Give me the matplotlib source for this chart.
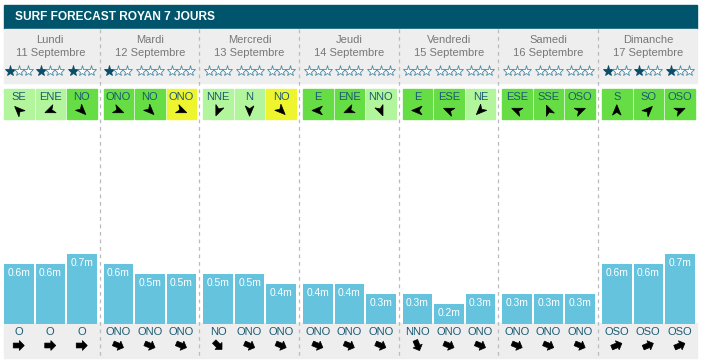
import numpy as np
import matplotlib.pyplot as plt
from matplotlib.patches import Rectangle, Polygon

plt.rcParams['font.family'] = ['Liberation Sans', 'DejaVu Sans']

# donnees
title = 'SURF FORECAST ROYAN 7 JOURS'
days = ['Lundi', 'Mardi', 'Mercredi', 'Jeudi', 'Vendredi', 'Samedi', 'Dimanche']
dates = ['11 Septembre', '12 Septembre', '13 Septembre', '14 Septembre',
         '15 Septembre', '16 Septembre', '17 Septembre']
stars = [1, 1, 1, 1, 0, 0, 0, 0, 0, 0, 0, 0, 0, 0, 0, 0, 0, 0, 1, 1, 1]
wind_dir = ['SE', 'ENE', 'NO', 'ONO', 'NO', 'ONO', 'NNE', 'N', 'NO',
            'E', 'ENE', 'NNO', 'E', 'ESE', 'NE', 'ESE', 'SSE', 'OSO',
            'S', 'SO', 'OSO']
# 0 = leger, 1 = moyen, 2 = fort
wind_level = [0, 0, 1, 1, 1, 2, 0, 0, 2, 1, 1, 0, 1, 1, 0, 1, 1, 1, 1, 1, 1]
heights = [0.6, 0.6, 0.7, 0.6, 0.5, 0.5, 0.5, 0.5, 0.4, 0.4, 0.4, 0.3,
           0.3, 0.2, 0.3, 0.3, 0.3, 0.3, 0.6, 0.6, 0.7]
swell_dir = ['O', 'O', 'O', 'ONO', 'ONO', 'ONO', 'NO', 'ONO', 'ONO',
             'ONO', 'ONO', 'ONO', 'NNO', 'ONO', 'ONO', 'ONO', 'ONO', 'ONO',
             'OSO', 'OSO', 'OSO']

compass = ['N', 'NNE', 'NE', 'ENE', 'E', 'ESE', 'SE', 'SSE',
           'S', 'SSO', 'SO', 'OSO', 'O', 'ONO', 'NO', 'NNO']
bearing = {d: i * 22.5 for i, d in enumerate(compass)}

wind_colors = ['#b3f59c', '#66dd44', '#eef52e']
header_col = '#00546b'
gray_bg = '#eeeeee'
bar_col = '#65c3de'
teal_txt = '#1b5a73'

W, H = 703, 364
fig = plt.figure(figsize=(W / 100, H / 100), dpi=100)
ax = fig.add_axes([0, 0, 1, 1])
ax.set_xlim(0, W)
ax.set_ylim(H, 0)
ax.axis('off')

col_w = 99.67
left = 4
right = 697
sub_w = 29.5
sub_step = 31.5


def slot_x(k):
    i, j = divmod(k, 3)
    return left + i * col_w + j * sub_step


def arrow_poly(cx, cy, b, r, kind):
    if kind == 'nav':
        pts = np.array([[0, 1], [0.75, -0.8], [0, -0.3], [-0.75, -0.8]])
    else:
        pts = np.array([[-0.95, 0.42], [0.1, 0.42], [0.1, 0.85], [0.95, 0],
                        [0.1, -0.85], [0.1, -0.42], [-0.95, -0.42]])
        pts = pts[:, ::-1]  # pointe vers le haut
    t = np.deg2rad(b)
    # rotation: vecteur (0,1) -> direction b (0 = haut)
    x = pts[:, 0] * np.cos(t) + pts[:, 1] * np.sin(t)
    y = -pts[:, 0] * np.sin(t) + pts[:, 1] * np.cos(t)
    return Polygon(np.c_[cx + r * x, cy - r * y], closed=True,
                   facecolor='black', edgecolor='black', lw=0.5)


# en-tete
ax.add_patch(Rectangle((left, 5), right - left, 24, color=header_col))
ax.text(15, 17.5, title, color='white', fontsize=8.6, fontweight='bold',
        va='center', ha='left')

# fonds gris
ax.add_patch(Rectangle((left, 29), right - left, 54, color=gray_bg))
ax.add_patch(Rectangle((left, 323), right - left, 35, color=gray_bg))

for i in range(7):
    cx = left + i * col_w + (2 * sub_step + sub_w) / 2
    ax.text(cx, 40, days[i], color='#777777', fontsize=8, ha='center', va='center')
    ax.text(cx, 52.5, dates[i], color='#777777', fontsize=8, ha='center', va='center')
    if i > 0:
        xl = i * col_w
        ax.plot([xl, xl], [29, 358], color='#bbbbbb', lw=0.9, ls=(0, (3, 3)))

for k in range(21):
    x0 = slot_x(k)
    cx = x0 + sub_w / 2
    # etoiles
    for s in range(3):
        filled = s < stars[k]
        ax.plot(cx + (s - 1) * 9, 71, marker='*', ms=8,
                mfc='#0b4d66' if filled else 'white',
                mec='#0b4d66' if filled else '#4a8aa5', mew=0.6)
    # vent
    ax.add_patch(Rectangle((x0, 89), sub_w, 30, color=wind_colors[wind_level[k]]))
    ax.text(cx, 97.5, wind_dir[k], color=teal_txt, fontsize=8,
            ha='center', va='center')
    ax.add_patch(arrow_poly(cx, 110.5, bearing[wind_dir[k]] + 180, 5.8, 'nav'))
    # houle
    ax.text(cx, 332, swell_dir[k], color=teal_txt, fontsize=8,
            ha='center', va='center')
    ax.add_patch(arrow_poly(cx, 345.5, bearing[swell_dir[k]] + 180, 5.8, 'block'))

# barres (hauteur de houle en metres)
bar_bottom = 323.5
px_per_m = 99
axb = fig.add_axes([0, (H - bar_bottom) / H, 1, px_per_m / H])
axb.set_xlim(0, W)
axb.set_ylim(0, 1)
axb.axis('off')
axb.patch.set_alpha(0)
centers = [slot_x(k) + sub_w / 2 for k in range(21)]
axb.bar(centers, heights, width=sub_w, color=bar_col)
for c, h in zip(centers, heights):
    axb.annotate(f'{h}m', (c, h), xytext=(0, -6.5), textcoords='offset points',
                 ha='center', va='center', color='white', fontsize=7.4)

fig.savefig('out.png', dpi=100)
